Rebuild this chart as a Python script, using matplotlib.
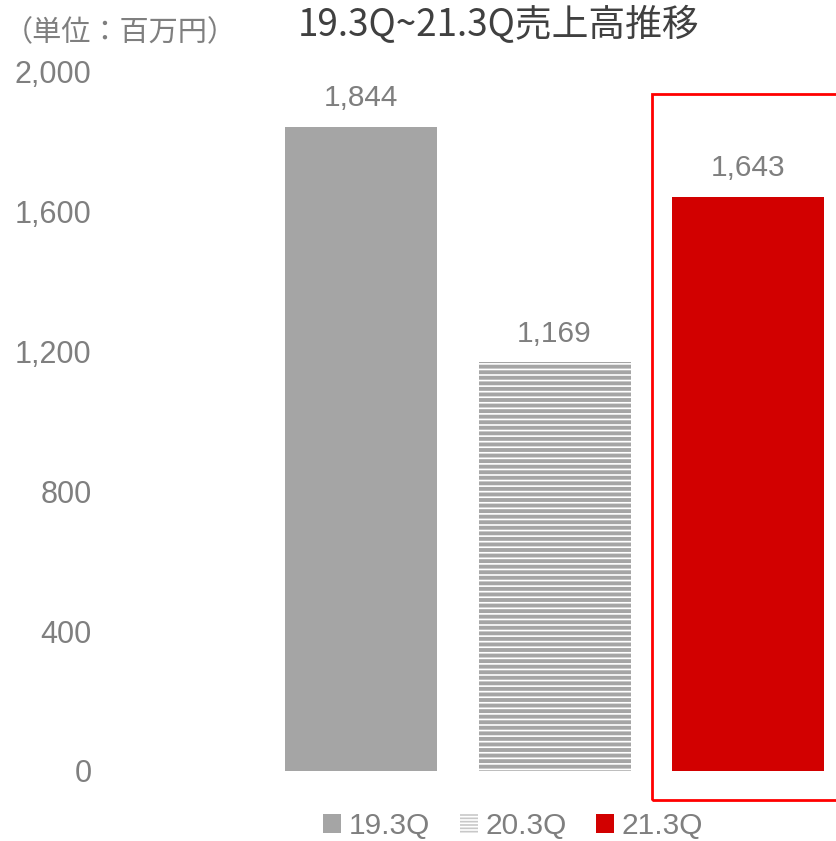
import matplotlib.pyplot as plt
from matplotlib.patches import Rectangle, Patch
import matplotlib as mpl

# data
categories = ['19.3Q', '20.3Q', '21.3Q']
sales = [1844, 1169, 1643]
yticks = [0, 400, 800, 1200, 1600, 2000]

plt.rcParams['font.family'] = ['Liberation Sans', 'Noto Sans CJK JP', 'DejaVu Sans']
mpl.rcParams['hatch.linewidth'] = 1.2
gray_txt = '#7f7f7f'

fig = plt.figure(figsize=(8.36, 8.41), dpi=100)
W, H = 836, 841
# axes in pixel coords: x from 100 to 836, y from 72 (2000) to 771 (0)
ax = fig.add_axes([100 / W, (H - 771) / H, (836 - 100) / W, 699 / H])

step = 193.5
c0 = 361
xs = [0, 1, 2]
width = 152 / step

b1 = ax.bar(xs[0], sales[0], width, color='#a5a5a5')
b2 = ax.bar(xs[1], sales[1], width, color='#a5a5a5', edgecolor='white', hatch='---', linewidth=0)
b3 = ax.bar(xs[2], sales[2], width, color='#d20000')

for x, v in zip(xs, sales):
    ax.text(x, v + 42, f'{v:,}', ha='center', va='bottom', fontsize=21.5, color=gray_txt)

ax.set_xlim((100 - c0) / step, (836 - c0) / step)
ax.set_ylim(0, 2000)
ax.set_yticks(yticks)
ax.set_yticklabels([f'{t:,}' for t in yticks], fontsize=22, color=gray_txt)
ax.set_xticks([])
ax.tick_params(axis='y', length=0, pad=6)
for s in ax.spines.values():
    s.set_visible(False)

# title and unit
fig.text(499 / W, 1 - 26 / H, '19.3Q~21.3Q売上高推移', ha='center', va='center', fontsize=26.5,
         color='#404040', family=['Noto Sans CJK JP', 'DejaVu Sans'])
fig.text(120 / W, 1 - 33 / H, '（単位：百万円）', ha='center', va='center', fontsize=21,
         color=gray_txt, family=['Noto Sans CJK JP', 'DejaVu Sans'])

# highlight box
fig.patches.append(Rectangle((652 / W, 1 - 800 / H), 200 / W, 706 / H, transform=fig.transFigure,
                             fill=False, edgecolor='#ff0000', linewidth=2))

handles = [Patch(facecolor='#a5a5a5'),
           Patch(facecolor='white', edgecolor='#c8c8c8', hatch='-----', linewidth=0),
           Patch(facecolor='#d20000')]
fig.legend(handles, categories, loc='center', bbox_to_anchor=(513 / W, 1 - 826 / H), ncol=3, frameon=False,
           fontsize=21.5, labelcolor=gray_txt, handlelength=0.6, handleheight=0.6, handletextpad=0.25,
           columnspacing=1.0, borderpad=0.1)

fig.savefig('out.png', dpi=100)
